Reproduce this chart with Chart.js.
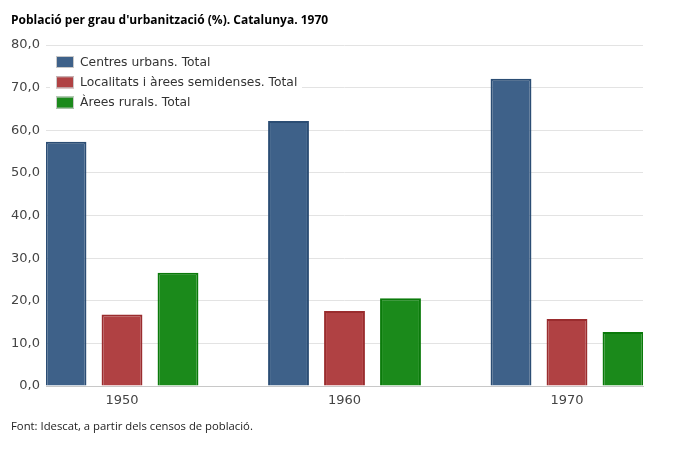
<!DOCTYPE html>
<html>
<head>
<meta charset="utf-8">
<script src="https://cdn.jsdelivr.net/npm/chart.js@4.4.1/dist/chart.umd.min.js"></script>
<style>
  body { margin: 0; background: #fff; }
  #wrap { width: 680px; height: 452px; }
</style>
</head>
<body>
<div id="wrap"><canvas id="urbChart"></canvas></div>
<script>
const years = [1950, 1960, 1970];
const seriesNames = [
  "Centres urbans. Total",
  "Localitats i àrees semidenses. Total",
  "Àrees rurals. Total"
];
const centresUrbans = [57.3, 62.2, 72.1];
const semidenses = [16.8, 17.6, 15.7];
const rurals = [26.6, 20.6, 12.7];
const yTicks = [0, 10, 20, 30, 40, 50, 60, 70, 80];

const fills = ["#3e6189", "#b04143", "#1b8a1b"];
const borders = ["#2b4d74", "#9a2c2e", "#0a7a0a"];

function points(vals) {
  return years.map((y, i) => ({ x: y, y: vals[i] }));
}

// legend drawn inside the plot area, top left, on a white box
const innerLegend = {
  id: "innerLegend",
  afterDraw(chart) {
    const ctx = chart.ctx;
    const left = chart.chartArea.left;
    const top = chart.chartArea.top;
    ctx.save();
    ctx.fillStyle = "#fff";
    ctx.fillRect(left + 4, top + 7, 252, 62);
    chart.data.datasets.forEach((ds, i) => {
      const y = top + 11 + i * 20.3;
      ctx.fillStyle = ds.backgroundColor;
      ctx.fillRect(left + 10, y, 18, 12);
      ctx.strokeStyle = "#c8c8c8";
      ctx.lineWidth = 1;
      ctx.strokeRect(left + 10.5, y + 0.5, 17, 11);
      ctx.fillStyle = "#333";
      ctx.font = "12.3px 'DejaVu Sans'";
      ctx.textBaseline = "middle";
      ctx.fillText(ds.label, left + 34, y + 6.5);
    });
    ctx.restore();
  }
};

const ctx = document.getElementById("urbChart").getContext("2d");

const urbChart = new Chart(ctx, {
  type: "bar",
  data: {
    datasets: [centresUrbans, semidenses, rurals].map((vals, i) => ({
      label: seriesNames[i],
      data: points(vals),
      backgroundColor: fills[i],
      borderColor: borders[i],
      borderWidth: 2,
      categoryPercentage: 0.755,
      barPercentage: 0.73
    }))
  },
  options: {
    responsive: true,
    maintainAspectRatio: false,
    animation: false,
    layout: { padding: { left: 11, right: 37, top: 0, bottom: 0 } },
    plugins: {
      legend: { display: false },
      tooltip: { enabled: false },
      title: {
        display: true,
        text: "Població per grau d'urbanització (%). Catalunya. 1970",
        align: "start",
        color: "#000",
        font: { family: "'Open Sans'", size: 12, weight: "bold" },
        padding: { top: 13, bottom: 17.6 }
      },
      subtitle: {
        display: true,
        position: "bottom",
        text: "Font: Idescat, a partir dels censos de població.",
        align: "start",
        color: "#222",
        font: { family: "'Open Sans'", size: 11.3 },
        padding: { top: 0, bottom: 18 }
      }
    },
    scales: {
      x: {
        type: "linear",
        offset: false,
        min: 1946.584,
        max: 1973.416,
        afterBuildTicks: (axis) => {
          axis.ticks = years.map(v => ({ value: v }));
        },
        afterFit: (axis) => { axis.height = 34.4; },
        grid: { display: false, drawTicks: false },
        border: { display: true, color: "#c8c8c8", width: 1 },
        ticks: {
          padding: 7,
          color: "#444",
          font: { family: "'DejaVu Sans'", size: 13 },
          callback: (v) => String(v)
        }
      },
      y: {
        min: 0,
        max: 80,
        afterBuildTicks: (axis) => {
          axis.ticks = yTicks.map(v => ({ value: v }));
        },
        afterFit: (axis) => { axis.width = 35; },
        grid: { color: "#e3e3e3", lineWidth: 1, drawTicks: false },
        border: { display: false },
        ticks: {
          padding: 6,
          color: "#444",
          font: { family: "'DejaVu Sans'", size: 13 },
          callback: (v) => v.toFixed(1).replace(".", ",")
        }
      }
    }
  },
  plugins: [innerLegend]
});
</script>
</body>
</html>
